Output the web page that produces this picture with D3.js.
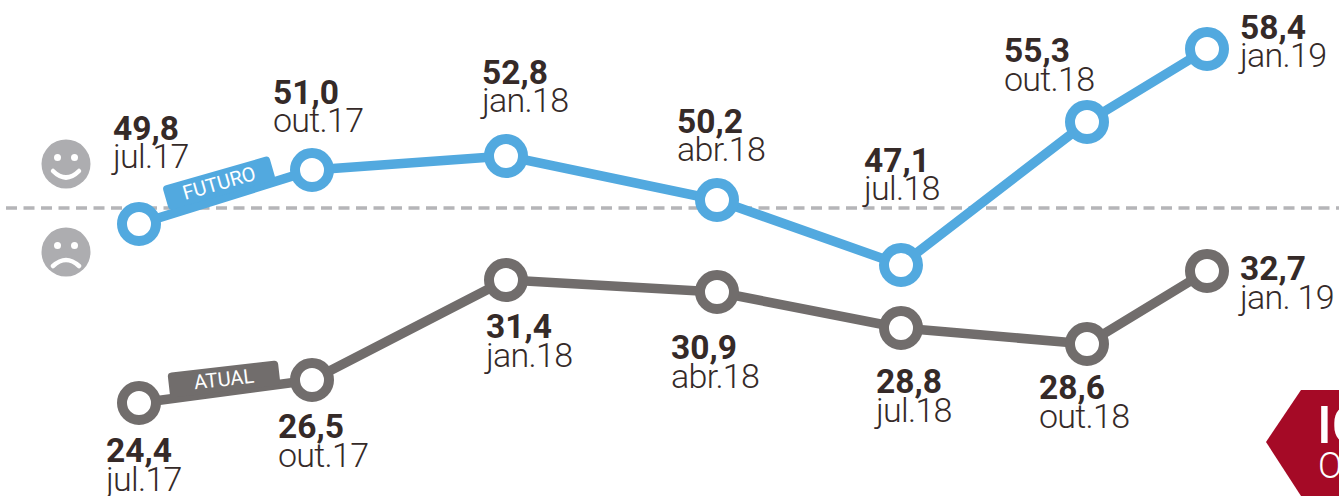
<!DOCTYPE html>
<html>
<head>
<meta charset="utf-8">
<script src="https://cdn.jsdelivr.net/npm/d3@7/dist/d3.min.js"></script>
<style>
html,body{margin:0;padding:0;background:#fff;overflow:hidden}
svg{display:block}
text{font-family:Roboto,sans-serif}
</style>
</head>
<body>
<svg id="c" width="1339" height="496"></svg>
<script>
// Data
const quarters = [0,1,2,3,4,5,6];
const futuroValues = [49.8,51.0,52.8,50.2,47.1,55.3,58.4];
const futuroDates  = ["jul.17","out.17","jan.18","abr.18","jul.18","out.18","jan.19"];
const atualValues  = [24.4,26.5,31.4,30.9,28.8,28.6,32.7];
const atualDates   = ["jul.17","out.17","jan.18","abr.18","jul.18","out.18","jan. 19"];

// The source's axes are not uniform: both scales are piecewise
const xRange = [139,312,506,717,901,1087,1207];
const yKnots = [24.4,26.5,28.6,28.8,30.9,31.4,32.7,47.1,49.8,50.2,51.0,52.8,55.3,58.4];
const yPixels= [403,380,344,328,292,280,271,265,224,200,170,156,122,49];
const x = d3.scaleLinear().domain(quarters).range(xRange);
const y = d3.scaleLinear().domain(yKnots).range(yPixels);

// Label offsets from the marker
const futuroDx = [-26,-39,-24,-40,-37,-83,33];
const futuroDy = [-84.5,-66.5,-72.5,-67.5,-93.5,-60,-10.5];
const atualDx  = [-33,-34,-20,-46,-25,-48,33];
const atualDy  = [59,58,58,67,65,55,9];

const COL = {blue:"#52a9df",gray:"#716d6c",text:"#352a28",face:"#adadb0",dash:"#b5b5b8",red:"#a50a26"};
const svg = d3.select("#c");

// neutral line
svg.append("line").attr("x1",6).attr("x2",1339)
  .attr("y1",208).attr("y2",208)
  .attr("stroke",COL.dash).attr("stroke-width",3.5).attr("stroke-dasharray","11 6.5");

// faces
function face(cx,cy,happy){
  const g=svg.append("g").attr("transform",`translate(${cx},${cy})`);
  g.append("circle").attr("r",24.5).attr("fill",COL.face);
  [-8.5,8.5].forEach(d=>g.append("circle").attr("cx",d).attr("cy",-6.5).attr("r",3.5).attr("fill","#fff"));
  g.append("path").attr("fill","none").attr("stroke","#fff").attr("stroke-width",4.5).attr("stroke-linecap","round")
   .attr("d",happy?"M-13,7 Q0,20 13,7":"M-13,14 Q0,2 13,14");
}
face(66,164,true);
face(66,252,false);

function series(vals,dates,color,dxs,dys){
  const line=d3.line().x((d,i)=>x(i)).y(d=>y(d));
  svg.append("path").datum(vals).attr("d",line).attr("fill","none")
     .attr("stroke",color).attr("stroke-width",9.5).attr("stroke-linejoin","round");
  return {vals,dates,color,dxs,dys};
}
const s1=series(futuroValues,futuroDates,COL.blue,futuroDx,futuroDy);
const s2=series(atualValues,atualDates,COL.gray,atualDx,atualDy);

// tags
function tag(label,cx,cy,w,h,angle,color){
  const g=svg.append("g").attr("transform",`translate(${cx},${cy}) rotate(${angle})`);
  g.append("rect").attr("x",-w/2).attr("y",-h/2).attr("width",w).attr("height",h).attr("rx",4).attr("fill",color);
  g.append("text").attr("text-anchor","middle").attr("y",7).attr("fill","#fff")
   .attr("font-size",20).attr("font-weight",400).text(label);
}
tag("FUTURO",219,183,111,25,-16,COL.blue);
tag("ATUAL",224,379,111,25,-6.5,COL.gray);

[s1,s2].forEach(s=>{
  svg.append("g").selectAll("circle").data(s.vals).join("circle")
    .attr("cx",(d,i)=>x(i)).attr("cy",d=>y(d)).attr("r",17)
    .attr("fill","#fff").attr("stroke",s.color).attr("stroke-width",10);
  const l=svg.append("g").selectAll("g").data(s.vals).join("g")
    .attr("transform",(d,i)=>`translate(${x(i)+s.dxs[i]},${y(d)+s.dys[i]})`);
  l.append("text").attr("fill",COL.text).attr("font-size",33.5).attr("font-weight",700)
    .text(d=>d.toFixed(1).replace(".",","));
  l.append("text").attr("fill",COL.text).attr("font-size",34).attr("font-weight",300).attr("y",28.5)
    .attr("letter-spacing",-0.7)
    .text((d,i)=>s.dates[i]);
});

// corner badge (cut off by the frame)
svg.append("path").attr("fill",COL.red)
  .attr("d",d3.line()([[1301,390],[1339,390],[1339,496],[1301,496],[1266,442]]));
svg.append("text").attr("x",1317).attr("y",443).attr("fill","#fff").attr("font-size",52).attr("font-weight",500).text("IC");
svg.append("text").attr("x",1318).attr("y",478).attr("fill","#fff").attr("font-size",36).attr("font-weight",300).text("O");
</script>
</body>
</html>
